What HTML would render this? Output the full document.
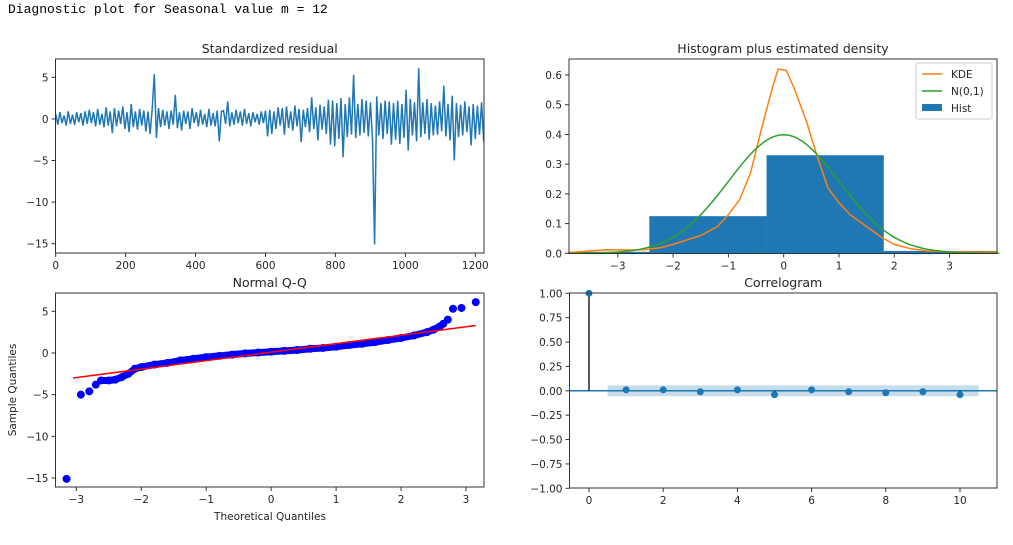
<!DOCTYPE html>
<html><head><meta charset="utf-8">
<style>
body{margin:0;background:#fff;width:1013px;height:545px;overflow:hidden}
#hdr{position:absolute;left:8px;top:2px;font:13px "Liberation Mono","DejaVu Sans Mono",monospace;color:#000;white-space:pre}
svg{position:absolute;left:0;top:0}
text{font-family:"DejaVu Sans","Liberation Sans",sans-serif;fill:#262626}
</style></head>
<body>
<div id="hdr">Diagnostic plot for Seasonal value m = 12</div>
<svg id="s" width="1013" height="545"></svg>
<script>
const resid = [0.6,-0.7,0.8,-0.5,0.4,-0.8,0.9,-0.6,0.5,-0.7,0.8,-0.4,0.7,-0.8,0.9,-0.6,1.1,-0.5,0.8,-0.9,1.2,-0.7,0.6,-1.0,1.4,-0.8,0.9,-1.7,1.3,-0.9,1.0,-0.6,1.5,-1.2,0.8,-1.6,1.8,-1.0,0.9,-1.3,1.2,-0.8,1.0,-1.5,0.9,-1.8,1.2,
5.4,
-2.3,1.3,-1.0,1.1,-0.8,0.9,-1.2,1.0,-0.7,
2.9,
-1.1,0.8,-1.4,1.0,-0.6,0.9,-1.2,1.3,-0.5,0.8,-0.9,1.1,-0.7,0.6,-1.0,1.2,-0.8,0.7,-0.9,1.0,-2.7,0.9,
1.0,-0.6,2.1,-0.9,0.8,-0.7,1.1,-0.5,0.9,-0.8,1.2,-0.6,0.7,-0.9,0.8,-0.4,0.6,-0.7,0.9,-0.5,1.0,
-2.1,1.1,-1.8,0.9,-1.2,1.4,-0.8,1.3,-1.9,1.5,-1.1,0.9,-1.4,1.6,-0.9,1.2,-2.8,1.1,-1.0,1.3,-1.6,2.6,-1.2,1.4,-2.6,1.7,-1.3,1.5,-1.8,
2.3,-3.1,2.2,-3.3,1.9,-2.4,2.5,-4.6,1.8,-2.2,2.6,-1.9,5.3,-2.3,1.8,-2.0,2.4,-1.7,2.2,-2.1,2.0,-2.5,
-15.1,
2.7,-2.0,1.9,-2.4,2.2,-1.8,2.1,-3.1,1.9,-2.5,2.2,-3.0,1.8,-2.3,3.5,-3.8,2.4,-2.0,2.0,-2.7,
6.1,
-2.2,2.0,-1.8,2.4,-2.5,1.9,-2.0,1.6,-1.9,2.1,-1.5,4.0,-2.1,1.8,-2.6,2.8,-5.0,1.9,-2.2,1.7,-2.0,2.1,-1.6,1.5,-3.2,1.8,-2.4,1.6,-1.9,2.0,-2.7];
const residStep = 6;
const histEdges = [-4.55,-2.43,-0.31,1.81,3.93];
const histHeights = [0.005,0.125,0.33,0.008];
const kdeX = [-3.9,-3.5,-3.2,-2.8,-2.5,-2.2,-2,-1.5,-1.2,-1,-0.8,-0.6,-0.4,-0.2,-0.1,0.05,0.2,0.4,0.6,0.8,1,1.2,1.5,1.8,2,2.3,2.6,3,3.5,3.9];
const kdeY = [0.002,0.008,0.012,0.011,0.012,0.02,0.03,0.06,0.09,0.13,0.18,0.27,0.42,0.56,0.62,0.615,0.55,0.45,0.33,0.22,0.17,0.13,0.09,0.05,0.03,0.015,0.008,0.005,0.004,0.004];
const qqX = [-3.15,-2.93,-2.8,-2.7,-2.62,-2.5,-2.4,-2.3,-2.2,-2.1,-2.0,-1.8,-1.6,-1.4,-1.2,-1.0,-0.8,-0.6,-0.4,-0.2,0,0.2,0.4,0.6,0.8,1.0,1.2,1.4,1.6,1.8,2.0,2.2,2.4,2.5,2.6,2.65,2.72,2.8,2.93,3.15];
const qqY = [-15.1,-5.0,-4.6,-3.8,-3.3,-3.3,-3.2,-2.9,-2.5,-1.9,-1.7,-1.4,-1.2,-0.9,-0.7,-0.5,-0.35,-0.2,-0.05,0.05,0.15,0.25,0.35,0.5,0.6,0.75,0.95,1.1,1.3,1.55,1.8,2.1,2.5,2.8,3.2,3.5,4.0,5.3,5.4,6.1];
const qqLineX = [-3.05,3.15];
const qqLineY = [-3.0,3.3];
const acfLags = [0,1,2,3,4,5,6,7,8,9,10];
const acfVals = [1,0.01,0.01,-0.01,0.01,-0.04,0.01,-0.01,-0.02,-0.01,-0.04];
const confBand = 0.056;
const resXTicks=[0,200,400,600,800,1000,1200], resYTicks=[5,0,-5,-10,-15];
const histXTicks=[-3,-2,-1,0,1,2,3], histYTicks=[0,0.1,0.2,0.3,0.4,0.5,0.6];
const qqXTicks=[-3,-2,-1,0,1,2,3], qqYTicks=[5,0,-5,-10,-15];
const acfXTicks=[0,2,4,6,8,10], acfYTicks=[1,0.75,0.5,0.25,0,-0.25,-0.5,-0.75,-1];

const S=document.getElementById('s'), NS='http://www.w3.org/2000/svg';
function el(tag,attrs,parent){const e=document.createElementNS(NS,tag);for(const k in attrs)e.setAttribute(k,attrs[k]);(parent||S).appendChild(e);return e;}
function lin(d0,d1,r0,r1){return v=>r0+(v-d0)*(r1-r0)/(d1-d0);}
function fmt(v,dec){let s=dec?v.toFixed(dec):String(v);return s.replace('-','\u2212');}
function axes(name,L,T,R,B,x,y,xt,yt,dec,title){
  const g=el('g',{});
  
  
  const f=el('rect',{x:L,y:T,width:R-L,height:B-T,fill:'none',stroke:'#333','stroke-width':1},g);
  
  
  xt.forEach(v=>{const px=x(v);el('line',{x1:px,x2:px,y1:B,y2:B+4,stroke:'#333'},g);
    const t=el('text',{x:px,y:B+16,'font-size':10.5,'text-anchor':'middle'},g);t.textContent=fmt(v,0);
    });
  yt.forEach(v=>{const py=y(v);el('line',{x1:L-4,x2:L,y1:py,y2:py,stroke:'#333'},g);
    const t=el('text',{x:L-7,y:py+4,'font-size':10.5,'text-anchor':'end'},g);t.textContent=fmt(v,dec);
    });
  const tt=el('text',{x:(L+R)/2,y:T-6,'font-size':12.5,'text-anchor':'middle'},g);tt.textContent=title;
  
  return g;
}
// clip helper
function clip(id,L,T,R,B){const c=el('clipPath',{id:id});el('rect',{x:L,y:T,width:R-L,height:B-T},c);}

// 1 Standardized residual
{const L=55.5,T=59,R=484,B=253;const x=lin(0,1200,55.7,475.3),y=lin(5,-15,77.3,243.7);
clip('c1',L,T,R,B);
const pts=resid.map((v,i)=>x(i*residStep).toFixed(1)+','+y(v).toFixed(1)).join(' ');
const p=el('polyline',{points:pts,fill:'none',stroke:'#1f77b4','stroke-width':1.5,'clip-path':'url(#c1)'});

axes('residual-panel',L,T,R,B,x,y,resXTicks,resYTicks,0,'Standardized residual');}

// 2 Histogram
{const L=569,T=59,R=997,B=253.5;const x=lin(0,1,783.7,839),y=lin(0,0.6,253.3,75);
clip('c2',L,T,R,B);
histHeights.forEach((h,i)=>{const r=el('rect',{x:x(histEdges[i]),y:y(h),width:x(histEdges[i+1])-x(histEdges[i]),height:y(0)-y(h),fill:'#1f77b4','clip-path':'url(#c2)'});
  });
const kp=kdeX.map((v,i)=>x(v).toFixed(1)+','+y(kdeY[i]).toFixed(1)).join(' ');
const k=el('polyline',{points:kp,fill:'none',stroke:'#ff7f0e','stroke-width':1.5,'clip-path':'url(#c2)'});

let np=[];for(let v=-3.9;v<=3.91;v+=0.05)np.push(x(v).toFixed(1)+','+y(Math.exp(-v*v/2)/Math.sqrt(2*Math.PI)).toFixed(1));
const n=el('polyline',{points:np.join(' '),fill:'none',stroke:'#2ca02c','stroke-width':1.5});

axes('histogram-panel',L,T,R,B,x,y,histXTicks,histYTicks,1,'Histogram plus estimated density');
const lg=el('g',{});
el('rect',{x:916,y:63,width:76,height:56,fill:'#fff',stroke:'#ccc',rx:2},lg);
[['KDE','#ff7f0e',74],['N(0,1)','#2ca02c',91]].forEach(([t,c,yy])=>{el('line',{x1:922,x2:942,y1:yy,y2:yy,stroke:c,'stroke-width':1.5},lg);
  const tx=el('text',{x:951,y:yy+4,'font-size':10.5},lg);tx.textContent=t;});
el('rect',{x:922,y:104,width:20,height:7,fill:'#1f77b4'},lg);
const ht=el('text',{x:951,y:112,'font-size':10.5},lg);ht.textContent='Hist';}

// 3 QQ
{const L=55.5,T=293,R=484,B=487;const x=lin(-3,3,76.3,466),y=lin(5,-15,311.3,478);
const band=[];qqX.forEach((v,i)=>{if(v>=-2.62&&v<=2.6)band.push(x(v).toFixed(1)+','+y(qqY[i]).toFixed(1));});
const b=el('polyline',{points:band.join(' '),fill:'none',stroke:'#0000ff','stroke-width':7,'stroke-linecap':'round','stroke-linejoin':'round'});

qqX.forEach((v,i)=>{const c=el('circle',{cx:x(v),cy:y(qqY[i]),r:4,fill:'#0000ff'});});
const l=el('line',{x1:x(qqLineX[0]),y1:y(qqLineY[0]),x2:x(qqLineX[1]),y2:y(qqLineY[1]),stroke:'#ff0000','stroke-width':1.5});

axes('qq-panel',L,T,R,B,x,y,qqXTicks,qqYTicks,0,'Normal Q-Q');
const xl=el('text',{x:270,y:520,'font-size':10.5,'text-anchor':'middle'});xl.textContent='Theoretical Quantiles';
const yl=el('text',{x:0,y:0,'font-size':10.5,'text-anchor':'middle',transform:'translate(16,390) rotate(-90)'});yl.textContent='Sample Quantiles';}

// 4 Correlogram
{const L=569.5,T=293,R=997,B=488;const x=lin(0,10,589,960),y=lin(1,-1,293.3,488.3);
const cb=el('rect',{x:x(0.5),y:y(confBand),width:x(10.5)-x(0.5),height:y(-confBand)-y(confBand),fill:'#1f77b4','fill-opacity':0.25});

const z=el('line',{x1:L,x2:R,y1:y(0),y2:y(0),stroke:'#1f77b4','stroke-width':1.5});
acfLags.forEach((lag,i)=>{el('line',{x1:x(lag),x2:x(lag),y1:y(0),y2:y(acfVals[i]),stroke:'#222','stroke-width':1.5});
  const c=el('circle',{cx:x(lag),cy:y(acfVals[i]),r:3.5,fill:'#1f77b4'});});
axes('correlogram-panel',L,T,R,B,x,y,acfXTicks,acfYTicks,2,'Correlogram');}
</script>
</body></html>
